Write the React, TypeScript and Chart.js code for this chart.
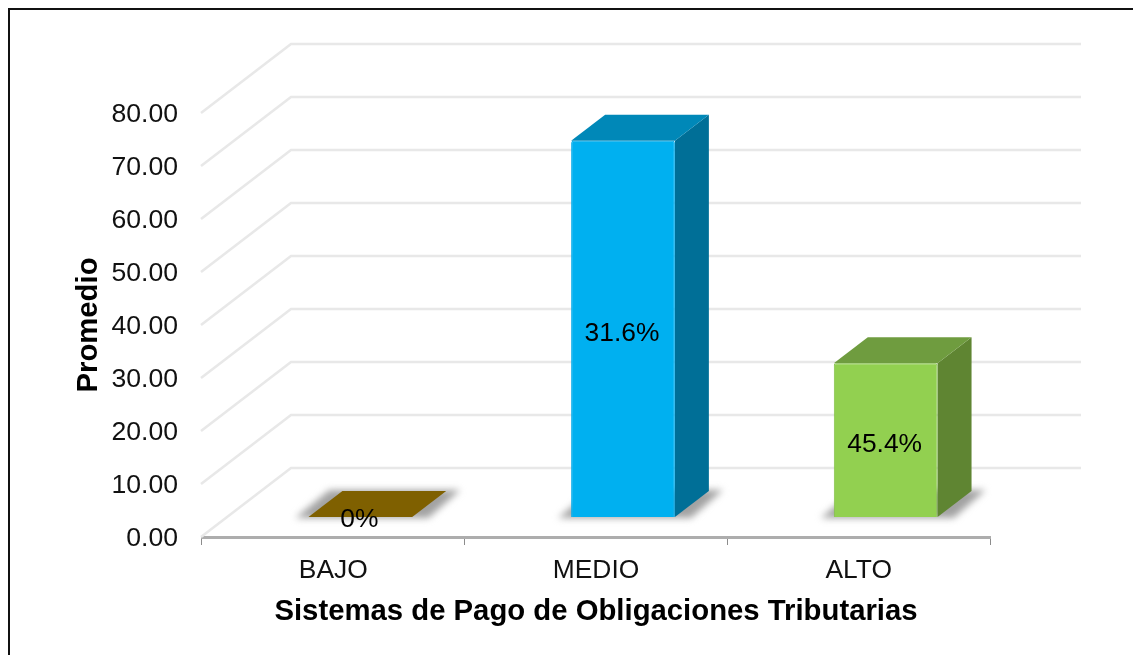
import React, { useEffect, useRef } from "react";
import { Chart, registerables } from "chart.js";

Chart.register(...registerables);

const categories = ["BAJO", "MEDIO", "ALTO"];
const values = [0, 71, 29];
const dataLabels = ["0%", "31.6%", "45.4%"];
const yTicks = [0, 10, 20, 30, 40, 50, 60, 70, 80];
const frontColors = ["#7f6000", "#00b0f0", "#92d050"];
const borderColors = ["#7f6000", "#04aaea", "#80c044"];
const topColors = ["#7f6000", "#0088b8", "#6f9c3f"];
const sideColors = ["#7f6000", "#006f97", "#5f8532"];
const xTitle = "Sistemas de Pago de Obligaciones Tributarias";
const yTitle = "Promedio";

const FONT = "'Liberation Sans', Arial, sans-serif";
// Oblique projection of the 3D chart
const WALL_DX = 89;
const WALL_DY = 69;
const BAR_DX = 27;
const BAR_DY = 20;
const DEPTH_X = 34;
const DEPTH_Y = 26;

function poly(ctx: CanvasRenderingContext2D, pts: number[][], fill: string) {
  ctx.beginPath();
  pts.forEach((p, i) => (i ? ctx.lineTo(p[0], p[1]) : ctx.moveTo(p[0], p[1])));
  ctx.closePath();
  ctx.fillStyle = fill;
  ctx.fill();
}

const frame3d = {
  id: "frame3d",
  beforeDraw(chart: any) {
    const { ctx, width, height } = chart;
    ctx.save();
    ctx.fillStyle = "#ffffff";
    ctx.fillRect(0, 0, width, height);
    ctx.strokeStyle = "#111111";
    ctx.lineWidth = 2;
    ctx.beginPath();
    ctx.moveTo(9, height + 2);
    ctx.lineTo(9, 9);
    ctx.lineTo(width + 2, 9);
    ctx.stroke();
    ctx.restore();
  },
  beforeDatasetsDraw(chart: any) {
    const { ctx, chartArea, scales } = chart;
    const y = scales.y;
    ctx.save();
    // walls' gridlines
    ctx.strokeStyle = "#e8e8e8";
    ctx.lineWidth = 2.5;
    y.ticks.forEach((t: any) => {
      const py = y.getPixelForValue(t.value);
      ctx.beginPath();
      ctx.moveTo(chartArea.left - 1, py);
      ctx.lineTo(chartArea.left + WALL_DX, py - WALL_DY);
      ctx.lineTo(chartArea.right + WALL_DX + 2, py - WALL_DY);
      ctx.stroke();
    });
    const meta = chart.getDatasetMeta(0);
    meta.data.forEach((bar: any, i: number) => {
      const L = bar.x - bar.width / 2 + BAR_DX;
      const R = bar.x + bar.width / 2 + BAR_DX;
      const B = bar.base - BAR_DY;
      const T = bar.y - BAR_DY;
      // floor shadow
      ctx.save();
      ctx.filter = "blur(3.5px)";
      poly(
        ctx,
        [
          [L - 13, B + 1],
          [R + 16, B + 1],
          [R + DEPTH_X + 14, B - DEPTH_Y - 1],
          [L + DEPTH_X - 13, B - DEPTH_Y - 1],
        ],
        "#a2a2a2"
      );
      ctx.restore();
      // top and side faces
      if (T < B) {
        poly(ctx, [[R, T], [R + DEPTH_X, T - DEPTH_Y], [R + DEPTH_X, B - DEPTH_Y], [R, B]], sideColors[i]);
      }
      poly(ctx, [[L, T], [R, T], [R + DEPTH_X, T - DEPTH_Y], [L + DEPTH_X, T - DEPTH_Y]], topColors[i]);
    });
    ctx.restore();
    ctx.save();
    ctx.translate(BAR_DX, -BAR_DY);
  },
  afterDatasetsDraw(chart: any) {
    const { ctx } = chart;
    ctx.restore();
    const meta = chart.getDatasetMeta(0);
    ctx.save();
    ctx.fillStyle = "#000000";
    ctx.font = `26.4px ${FONT}`;
    ctx.textAlign = "center";
    ctx.textBaseline = "middle";
    meta.data.forEach((bar: any, i: number) => {
      const mid = (bar.y + bar.base) / 2 - BAR_DY + (bar.base - bar.y > 1 ? 5 : 3);
      ctx.fillText(dataLabels[i], bar.x + BAR_DX - 1, mid);
    });
    ctx.restore();
  },
};

export default function App() {
  const ref = useRef<HTMLCanvasElement | null>(null);
  useEffect(() => {
    if (!ref.current) return;
    const chart = new Chart(ref.current, {
      type: "bar",
      plugins: [frame3d],
      data: {
        labels: categories,
        datasets: [
          {
            data: values,
            backgroundColor: frontColors,
            borderColor: borderColors,
            borderWidth: 1,
            borderRadius: 2,
            categoryPercentage: 1,
            barPercentage: 0.395,
            clip: false as any,
          },
        ],
      },
      options: {
        responsive: false,
        animation: false,
        layout: { padding: { top: 113, right: 143, left: 0, bottom: 0 } },
        plugins: { legend: { display: false }, tooltip: { enabled: false }, title: { display: false } },
        scales: {
          x: {
            afterFit: (s: any) => {
              s.height = 118;
            },
            grid: {
              offset: true,
              drawOnChartArea: false,
              drawTicks: true,
              tickLength: 8,
              color: "#8c8c8c",
              lineWidth: 1,
            },
            border: { color: "#adadad", width: 3 },
            ticks: { color: "#111111", font: { family: FONT, size: 26.4 }, padding: 10, maxRotation: 0 },
            title: {
              display: true,
              text: xTitle,
              color: "#000000",
              font: { family: FONT, size: 29.3, weight: "bold" },
              padding: { top: 0, bottom: 26 },
            },
          },
          y: {
            min: 0,
            max: 80,
            afterFit: (s: any) => {
              s.width = 202;
            },
            afterBuildTicks: (s: any) => {
              s.ticks = yTicks.map((value) => ({ value }));
            },
            grid: { display: false },
            border: { display: false },
            ticks: {
              color: "#111111",
              font: { family: FONT, size: 26.6 },
              padding: 16,
              labelOffset: 2,
              callback: (v: any) => Number(v).toFixed(2),
            },
            title: {
              display: true,
              text: yTitle,
              color: "#000000",
              font: { family: FONT, size: 29.3, weight: "bold" },
              padding: { top: 71, bottom: 0 },
            },
          },
        },
      },
    } as any);
    return () => chart.destroy();
  }, []);
  return (
    <div style={{ position: "fixed", left: 0, top: 0, width: 1133, height: 655, background: "#fff" }}>
      <canvas ref={ref} width={1133} height={655} style={{ display: "block", filter: "blur(0.4px)" }} />
    </div>
  );
}
